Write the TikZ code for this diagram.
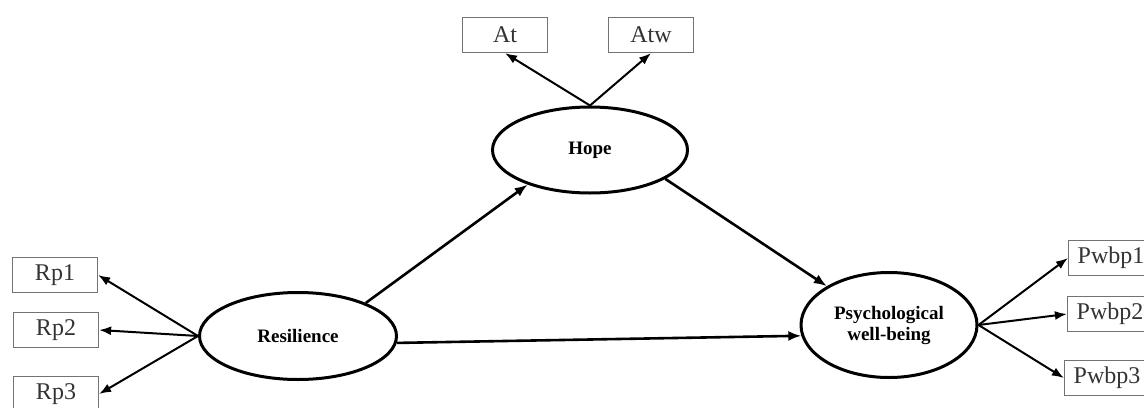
\documentclass[tikz,border=0pt]{standalone}
\usepackage{fontspec}
\setmainfont{Liberation Serif}
\usetikzlibrary{shapes.geometric,arrows.meta}
\begin{document}
\begin{tikzpicture}[x=0.5pt,y=-0.5pt,
  latent/.style={ellipse,draw,line width=1.5pt,inner sep=0pt,font=\fontsize{9.5}{10.5}\selectfont\bfseries,align=center},
  ind/.style={rectangle,draw=black!55,line width=0.6pt,inner sep=0pt,minimum width=42.5pt,minimum height=17.5pt,text=black!80,font=\fontsize{12}{13}\selectfont},
  path/.style={line width=1.3pt,-{Latex[length=6.5pt,width=5pt]}},
  load/.style={line width=1pt,-{Latex[length=6pt,width=4.5pt]}}]
\clip (0,0) rectangle (1144,407);
\fill[white] (0,0) rectangle (1144,407);
\node[latent,minimum width=98.5pt,minimum height=43.5pt] (res) at (298,336) {Resilience};
\node[latent,minimum width=97.5pt,minimum height=43pt] (hope) at (590,150) {Hope};
\node[latent,minimum width=88pt,minimum height=52.5pt] (pwb) at (889,325) {Psychological\\well-being};
\node[ind] (rp1) at (55,275) {Rp1};
\node[ind] (rp2) at (56,330) {Rp2};
\node[ind] (rp3) at (56,394) {Rp3};
\node[ind] (at) at (505,35) {At};
\node[ind] (atw) at (651,35) {Atw};
\node[ind] (pw1) at (1111,258) {Pwbp1};
\node[ind] (pw2) at (1110,314) {Pwbp2};
\node[ind] (pw3) at (1107,378) {Pwbp3};
\draw[load] (res.west) -- (rp1.east);
\draw[load] (res.west) -- (rp2.east);
\draw[load] (res.west) -- (rp3.east);
\draw[load] (hope.north) -- (at.south);
\draw[load] (hope.north) -- (atw.south);
\draw[load] (pwb.east) -- (pw1.west);
\draw[load] (pwb.east) -- (pw2.west);
\draw[load] (pwb.east) -- (pw3.west);
\draw[path] (res.26) -- (hope.209);
\draw[path] (hope.-21) -- (pwb.148);
\draw[path] (res.-4) -- (pwb.187);
\end{tikzpicture}
\end{document}
